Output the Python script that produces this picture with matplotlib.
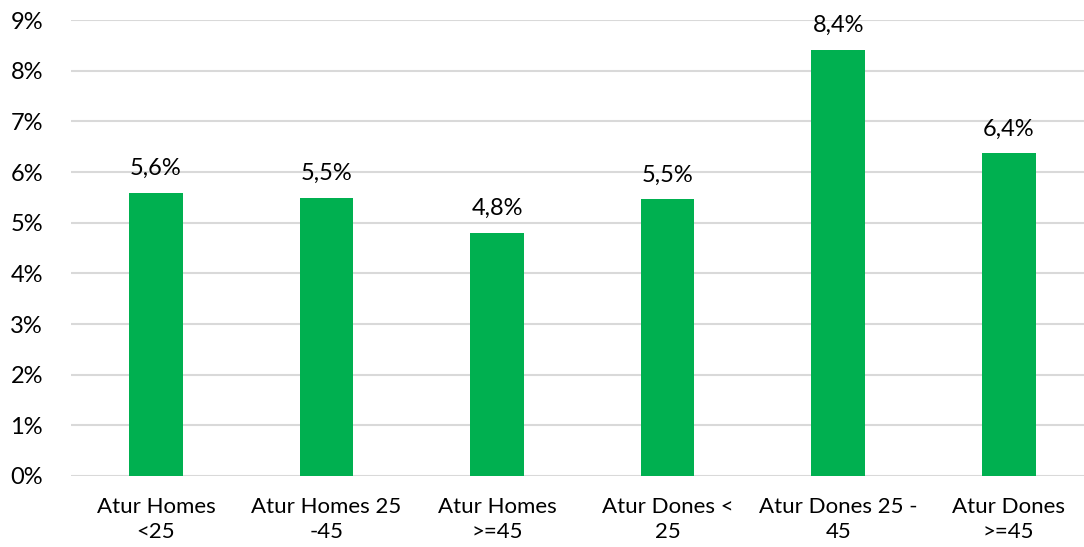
import matplotlib.pyplot as plt
import numpy as np

# Data
categories = ['Atur Homes\n<25', 'Atur Homes 25\n-45', 'Atur Homes\n>=45',
              'Atur Dones <\n25', 'Atur Dones 25 -\n45', 'Atur Dones\n>=45']
values = [5.59, 5.49, 4.80, 5.46, 8.41, 6.37]
yticks = [0, 1, 2, 3, 4, 5, 6, 7, 8, 9]

plt.rcParams['font.family'] = ['Lato', 'DejaVu Sans']

fig = plt.figure(figsize=(10.84, 5.47), dpi=100)
ax = fig.add_axes([0.0652, 0.1298, 0.944, 0.8336])

x = np.arange(len(categories))
bars = ax.bar(x, values, width=0.315, color='#00B050', zorder=3)

for xi, v in zip(x, values):
    ax.text(xi, v + 0.27, f'{v:.1f}%'.replace('.', ','), ha='center', va='bottom',
            fontsize=17, color='black')

ax.set_xlim(-0.5, len(categories) - 0.5)
ax.set_ylim(0, 9)
ax.set_yticks(yticks)
ax.set_yticklabels([f'{t}%' for t in yticks], fontsize=17)
ax.set_xticks(x)
ax.set_xticklabels(categories, fontsize=16, linespacing=1.3)

ax.grid(axis='y', color='#D9D9D9', linewidth=1.5, zorder=0)
ax.tick_params(axis='both', length=0)
ax.tick_params(axis='x', pad=15)
ax.tick_params(axis='y', pad=20)
for s in ax.spines.values():
    s.set_visible(False)

fig.savefig('out.png', dpi=100)
